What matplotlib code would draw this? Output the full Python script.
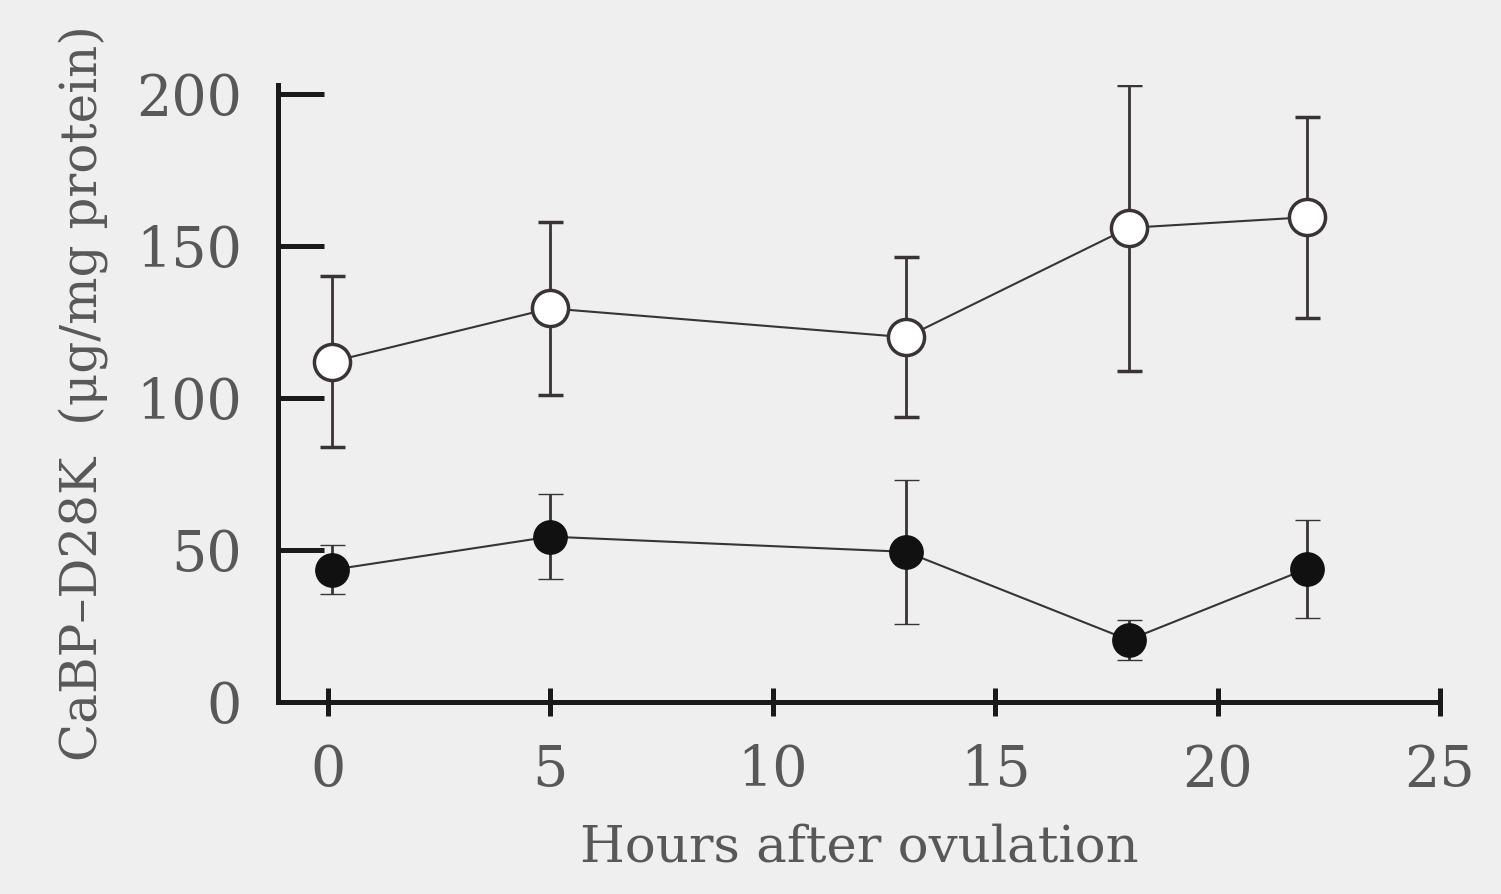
import matplotlib
matplotlib.use("Agg")
import matplotlib.pyplot as plt

# hours after ovulation
hours = [0.1, 5.0, 13.0, 18.0, 22.0]

# open circles
open_mean = [112, 129.5, 120, 156, 159.5]
open_sd = [28, 28.5, 26.3, 47, 33]

# filled circles
filled_mean = [43.5, 54.4, 49.4, 20.4, 43.8]
filled_sd = [8, 14, 23.8, 6.6, 16.2]

x_ticks = [0, 5, 10, 15, 20, 25]
y_ticks = [0, 50, 100, 150, 200]

bg = '#efefef'
ink = '#3a3333'
txt = '#585858'

plt.rcParams['font.family'] = ['DejaVu Serif']

fig = plt.figure(figsize=(15.01, 8.94), dpi=100, facecolor=bg)
ax = fig.add_axes([0.1852, 0.2148, 0.7742, 0.6901], facecolor=bg)

ax.errorbar(hours, open_mean, yerr=open_sd, color=ink, lw=1.5, elinewidth=2,
            capsize=9, capthick=2.5, marker='o', ms=26, mfc='white', mec=ink,
            mew=2.5, zorder=3)
ax.errorbar(hours, filled_mean, yerr=filled_sd, color=ink, lw=1.5, elinewidth=2,
            capsize=9, capthick=2.5, marker='o', ms=24, mfc='#111111', mec='#111111',
            mew=1, zorder=3)

ax.set_xlim(-1.12, 25)
ax.set_ylim(0, 203)
ax.set_xticks(x_ticks)
ax.set_yticks(y_ticks)

for s in ['top', 'right']:
    ax.spines[s].set_visible(False)
for s in ['left', 'bottom']:
    ax.spines[s].set_linewidth(3.6)
    ax.spines[s].set_color('#1a1a1a')

ax.tick_params(axis='y', direction='in', length=33, width=3.6, color='#1a1a1a',
               labelsize=40, labelcolor=txt, pad=26)
ax.tick_params(axis='x', direction='inout', length=20, width=3.6, color='#1a1a1a',
               labelsize=40, labelcolor=txt, pad=20)

ax.set_xlabel('Hours after ovulation', fontsize=37, color=txt, labelpad=18)
ax.set_ylabel('CaBP–D28K  (μg/mg protein)', fontsize=36, color=txt, labelpad=20)

fig.savefig('out.png', dpi=100, facecolor=bg)
